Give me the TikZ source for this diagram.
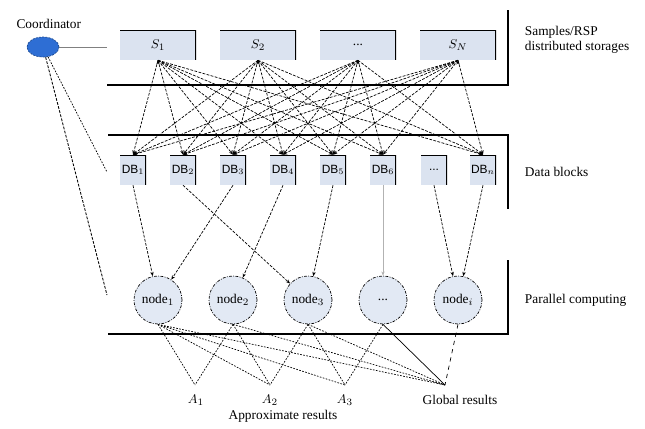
\documentclass[tikz,border=0pt]{standalone}
\usepackage{fontspec}
\setmainfont{Liberation Serif}
\setsansfont{Liberation Sans}
\usepackage{tikz}
\usetikzlibrary{arrows.meta,shapes.geometric,positioning}

\definecolor{boxfill}{RGB}{219,227,240}
\definecolor{nodefill}{RGB}{226,233,244}
\definecolor{coordfill}{RGB}{46,110,212}

\begin{document}
\begin{tikzpicture}[
        >={Stealth[length=3pt,width=2.4pt]},
        font=\fontsize{9.5}{11}\selectfont,
        % Style cho các hộp lưu trữ (viền trên + phải đậm)
        store/.style={rectangle, fill=boxfill, minimum width=1.9cm, minimum height=0.75cm, inner sep=0pt,
            path picture={\draw[line width=1.6pt] (path picture bounding box.north west) -- (path picture bounding box.north east) -- (path picture bounding box.south east);}},
        % Style cho các khối dữ liệu
        block/.style={store, minimum width=0.65cm, font=\sffamily\fontsize{8.5}{10}\selectfont},
        % Style cho các nút tính toán
        worker/.style={circle, draw, fill=nodefill, minimum size=1.2cm, inner sep=0pt, line width=0.5pt, dash pattern=on 2pt off 1pt on 0.6pt off 1pt},
        coord/.style={ellipse, draw=coordfill!70!black, line width=0.5pt, dash pattern=on 1.5pt off 0.8pt, fill=coordfill, minimum width=0.8cm, minimum height=0.5cm},
        mesh/.style={->, line width=0.5pt, dash pattern=on 2pt off 1pt},
        dotline/.style={line width=0.5pt, dash pattern=on 1.2pt off 1pt},
        layer/.style={anchor=west, align=left},
        frame/.style={line width=0.8pt}
    ]

        \useasboundingbox (0,0) rectangle (16.125,-10.7);

        % 1. Coordinator
        \node[coord] (coord) at (1.075,-1.175) {};
        \node (coordlbl) at (1.22,-0.6) {Coordinator};
        \coordinate (cs) at (2.675,-1.175);
        \coordinate (cdb) at (2.675,-4.3);
        \coordinate (cn) at (2.675,-7.375);

        % 2. Các hộp lưu trữ mẫu
        \node[store] (s1) at (3.95,-1.125) {$S_1$};
        \node[store] (s2) at (6.45,-1.125) {$S_2$};
        \node[store] (s3) at (8.95,-1.125) {...};
        \node[store] (sn) at (11.45,-1.125) {$S_N$};

        % 3. Các khối dữ liệu
        \node[block] (db1) at (3.325,-4.25) {DB$_1$};
        \node[block] (db2) at (4.575,-4.25) {DB$_2$};
        \node[block] (db3) at (5.825,-4.25) {DB$_3$};
        \node[block] (db4) at (7.075,-4.25) {DB$_4$};
        \node[block] (db5) at (8.325,-4.25) {DB$_5$};
        \node[block] (db6) at (9.575,-4.25) {DB$_6$};
        \node[block] (db7) at (10.85,-4.25) {...};
        \node[block] (dbn) at (12.075,-4.25) {DB$_n$};

        % 4. Các nút tính toán song song
        \node[worker] (n1) at (3.95,-7.5) {node$_1$};
        \node[worker] (n2) at (5.825,-7.5) {node$_2$};
        \node[worker] (n3) at (7.7,-7.5) {node$_3$};
        \node[worker] (n4) at (9.575,-7.5) {...};
        \node[worker] (n5) at (11.45,-7.5) {node$_i$};

        % 5. Kết quả
        \coordinate (ap1) at (4.875,-9.625);
        \coordinate (ap2) at (6.75,-9.625);
        \coordinate (ap3) at (8.625,-9.625);
        \coordinate (apg) at (11.125,-9.625);
        \node (a1) at (4.9,-10.0) {$A_1$};
        \node (a2) at (6.75,-10.0) {$A_2$};
        \node (a3) at (8.625,-10.0) {$A_3$};
        \node (glob) at (11.5,-10.0) {Global results};
        \node (approx) at (7.075,-10.4) {Approximate results};

        % 6. Khung các tầng và nhãn
        \draw[frame] (2.675,-2.125) -- (12.7,-2.125) -- (12.7,-0.25);
        \draw[frame] (2.7,-3.375) -- (12.7,-3.375) -- (12.7,-5.225);
        \draw[frame] (2.7,-8.35) -- (12.7,-8.35) -- (12.7,-6.5);
        \node[layer] (lstore) at (13.0,-1.0) {Samples/RSP\\distributed storages};
        \node[layer] (lblock) at (13.0,-4.3) {Data blocks};
        \node[layer] (lnode) at (13.0,-7.5) {Parallel computing};

        % 7. Đường nối từ coordinator
        \draw[gray] (coord) -- (cs);
        \draw[dotline] (coord) -- (cdb);
        \draw[semithick, dash pattern=on 2pt off 1pt] (coord) -- (cn);

        % 8. Phân phối mẫu -> khối dữ liệu
        \draw[mesh] (s1.south) edge (db1.north) edge (db2.north) edge (db3.north) edge (db4.north) edge (db5.north) edge (db6.north) edge (dbn.north);
        \draw[mesh] (s2.south) edge (db1.north) edge (db2.north) edge (db3.north) edge (db4.north) edge (db5.north) edge (db6.north) edge (dbn.north);
        \draw[mesh] (s3.south) edge (db1.north) edge (db2.north) edge (db3.north) edge (db4.north) edge (db5.north) edge (db6.north) edge (dbn.north);
        \draw[mesh] (sn.south) edge (db1.north) edge (db2.north) edge (db3.north) edge (db4.north) edge (db5.north) edge (db6.north) edge (dbn.north);

        % 9. Khối dữ liệu -> nút
        \draw[mesh] (db1.south) -- (n1);
        \draw[mesh] (db2.south) -- (n3);
        \draw[mesh] (db3.south) -- (n1);
        \draw[mesh] (db4.south) -- (n2);
        \draw[mesh] (db5.south) -- (n3);
        \draw[->, gray!60] (db6.south) -- (n4);
        \draw[mesh] (db7.south) -- (n5);
        \draw[mesh] (dbn.south) -- (n5);

        % 10. Nút -> kết quả
        \draw[dotline] (n1.south) -- (ap1) (n1.south) -- (ap2) (n1.south) -- (ap3) (n1.south) -- (apg);
        \draw[dotline] (n2.south) -- (ap1) (n2.south) -- (ap2) (n2.south) -- (apg);
        \draw[dotline] (n3.south) -- (ap2) (n3.south) -- (ap3) (n3.south) -- (apg);
        \draw[dotline] (n4.south) -- (ap3);
        \draw[line width=0.5pt] (n4.south) -- (apg);
        \draw[dashed, line width=0.5pt] (n5.south) -- (apg);

    \end{tikzpicture}
\end{document}
